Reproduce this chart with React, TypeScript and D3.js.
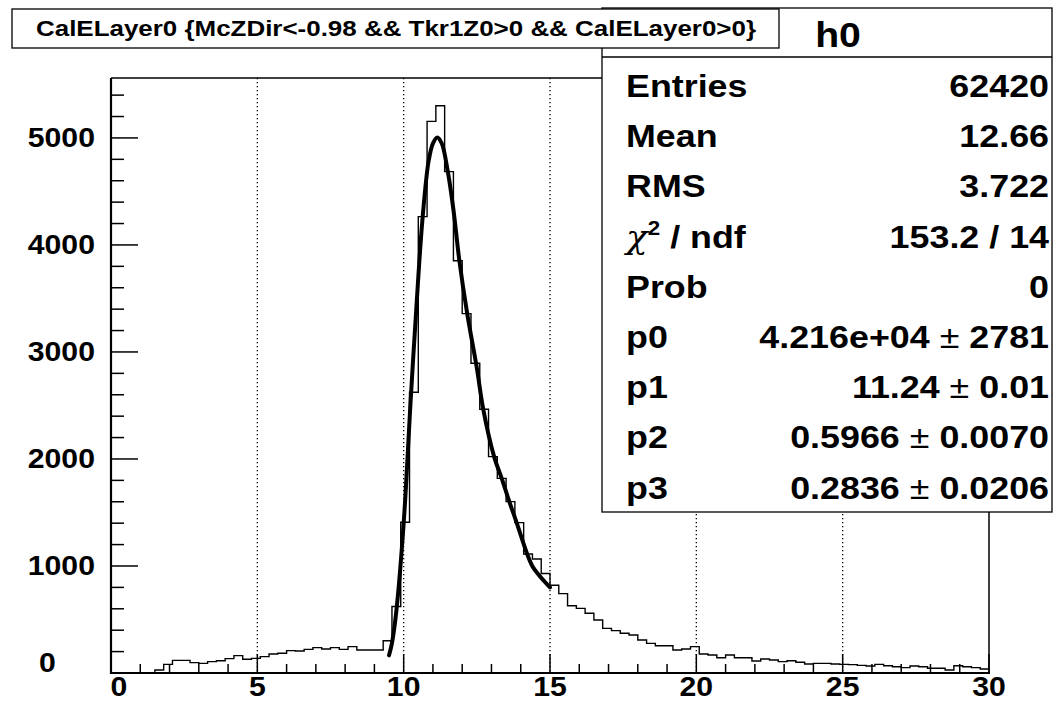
import React from "react";
import * as d3 from "d3";

// ---------------- data ----------------
const X_MIN = 0;
const X_MAX = 30;
const BIN_COUNTS: number[] = [
  0, 0, 0, 0, 3, 28, 81, 118, 118, 97,
  90, 106, 115, 134, 162, 128, 137, 153, 178, 184,
  209, 205, 221, 237, 224, 237, 221, 246, 215, 215,
  215, 302, 622, 1408, 2623, 4265, 5155, 5300, 4685, 3852,
  3358, 2894, 2464, 2022, 1819, 1601, 1405, 1112, 1065, 930,
  820, 742, 628, 604, 558, 495, 417, 396, 371, 355,
  308, 277, 255, 255, 215, 224, 246, 178, 168, 143,
  168, 143, 143, 112, 131, 121, 106, 115, 100, 84,
  90, 90, 84, 81, 78, 71, 65, 81, 68, 59,
  50, 65, 59, 44, 44, 28, 68, 59, 50, 37,
];
const FIT_X: number[] = [9.5, 9.6, 9.75, 10.0, 10.25, 10.5, 10.65, 10.85, 11.0, 11.15, 11.3, 11.5, 11.7, 11.9, 12.17, 12.5, 12.72, 13.09, 13.35, 13.61, 13.86, 14.22, 14.41, 14.7, 15.0];
const FIT_Y: number[] = [165, 280, 580, 1400, 2600, 3700, 4265, 4780, 4950, 5005, 4950, 4700, 4330, 3860, 3360, 2850, 2464, 2022, 1819, 1601, 1405, 1112, 993, 890, 800];

const X_TICKS = [0, 5, 10, 15, 20, 25, 30];
const X_GRID = [5, 10, 15, 20, 25];
const Y_TICKS = [0, 1000, 2000, 3000, 4000, 5000];
const Y_MAX = 5560;

const TITLE = "CalELayer0 {McZDir<-0.98 && Tkr1Z0>0 && CalELayer0>0}";
const HIST_NAME = "h0";
const STAT_LABELS = ["Entries", "Mean", "RMS", "CHI", "Prob", "p0", "p1", "p2", "p3"];
const STAT_VALUES = ["62420", "12.66", "3.722", "153.2 / 14", "0", "4.216e+04", "11.24", "0.5966", "0.2836"];
const STAT_ERRORS = ["", "", "", "", "", "2781", "0.01", "0.0070", "0.0206"];

// ---------------- layout ----------------
const W = 1063;
const H = 702;
const SX = 1.12;
const FONT = "'Liberation Sans', Arial, Helvetica, sans-serif";

const x = d3.scaleLinear().domain([X_MIN, X_MAX]).range([111, 989]);
const y = d3.scaleLinear().domain([0, Y_MAX]).range([673, 78]);

function T(props: {
  x: number;
  y: number;
  anchor?: "start" | "middle" | "end";
  size: number;
  weight?: string;
  children: React.ReactNode;
}) {
  const { anchor = "start", weight = "bold" } = props;
  return (
    <text
      transform={`translate(${props.x},${props.y}) scale(${SX},1)`}
      textAnchor={anchor}
      fontSize={props.size}
      fontWeight={weight}
      fontFamily={FONT}
      fill="#000"
    >
      {props.children}
    </text>
  );
}

export default function App() {
  const binW = (X_MAX - X_MIN) / BIN_COUNTS.length;
  const stepPts: [number, number][] = BIN_COUNTS.map((c, i) => [X_MIN + i * binW, c]);
  stepPts.push([X_MAX, BIN_COUNTS[BIN_COUNTS.length - 1]]);
  const histPath = d3
    .line<[number, number]>()
    .x((d) => x(d[0]))
    .y((d) => y(d[1]))
    .curve(d3.curveStepAfter)(stepPts) as string;

  const fitPts: [number, number][] = FIT_X.map((v, i) => [v, FIT_Y[i]]);
  const fitPath = d3
    .line<[number, number]>()
    .x((d) => x(d[0]))
    .y((d) => y(d[1]))
    .curve(d3.curveCatmullRom.alpha(0.5))(fitPts) as string;

  const xMinor = d3.range(X_MIN, X_MAX + 0.001, 1).filter((v) => v % 5 !== 0);
  const yMinor = d3.range(0, Y_MAX, 200).filter((v) => v % 1000 !== 0);

  const [fx0, fx1] = x.range();
  const [fy0, fy1] = y.range();

  const statX0 = 602, statX1 = 1052, statY0 = 8, statY1 = 512, statHead = 57;
  const rowY = (i: number) => 97 + i * 50.2;

  return (
    <svg width={W} height={H} style={{ display: "block", position: "absolute", left: 0, top: 0 }}>
      <rect x={0} y={0} width={W} height={H} fill="#fff" />
      {/* grid */}
      {X_GRID.map((g) => (
        <line key={"g" + g} x1={x(g)} x2={x(g)} y1={fy1} y2={fy0} stroke="#000" strokeWidth={1.3} strokeDasharray="1.3 2.7" />
      ))}
      {/* histogram */}
      <path d={histPath} fill="none" stroke="#000" strokeWidth={1.4} />
      {/* fit */}
      <path d={fitPath} fill="none" stroke="#000" strokeWidth={4} strokeLinecap="round" />
      {/* frame */}
      <line x1={fx0} x2={fx1} y1={fy1} y2={fy1} stroke="#000" strokeWidth={1.3} />
      <line x1={fx1} x2={fx1} y1={fy1} y2={fy0} stroke="#000" strokeWidth={1.5} />
      <line x1={fx0} x2={fx0} y1={fy1} y2={fy0 + 1} stroke="#000" strokeWidth={2.2} />
      <line x1={fx0 - 1} x2={fx1 + 1} y1={fy0} y2={fy0} stroke="#000" strokeWidth={2.2} />
      {/* x ticks */}
      {X_TICKS.map((t) => (
        <line key={"xt" + t} x1={x(t)} x2={x(t)} y1={fy0} y2={fy0 - 19} stroke="#000" strokeWidth={1.5} />
      ))}
      {xMinor.map((t) => (
        <line key={"xm" + t} x1={x(t)} x2={x(t)} y1={fy0} y2={fy0 - 9} stroke="#000" strokeWidth={1.5} />
      ))}
      {/* y ticks */}
      {Y_TICKS.map((t) => (
        <line key={"yt" + t} x1={fx0} x2={fx0 + 27} y1={y(t)} y2={y(t)} stroke="#000" strokeWidth={1.5} />
      ))}
      {yMinor.map((t) => (
        <line key={"ym" + t} x1={fx0} x2={fx0 + 13} y1={y(t)} y2={y(t)} stroke="#000" strokeWidth={1.5} />
      ))}
      {/* labels */}
      {X_TICKS.map((t) => (
        <T key={"xl" + t} x={x(t) + (t === 0 ? 8 : 0)} y={696} anchor="middle" size={27}>
          {String(t)}
        </T>
      ))}
      {Y_TICKS.map((t) =>
        t === 0 ? (
          <T key={"yl" + t} x={39} y={672} anchor="start" size={27}>
            {String(t)}
          </T>
        ) : (
          <T key={"yl" + t} x={95} y={y(t) + 9} anchor="end" size={27}>
            {String(t)}
          </T>
        )
      )}
      {/* stats box */}
      <rect x={statX0} y={statY0} width={statX1 - statX0} height={statY1 - statY0} fill="#fff" stroke="#000" strokeWidth={1.3} />
      <line x1={statX0} x2={statX1} y1={statHead} y2={statHead} stroke="#000" strokeWidth={1.3} />
      <T x={838} y={47} anchor="middle" size={35}>{HIST_NAME}</T>
      {STAT_LABELS.map((lab, i) => (
        <g key={"s" + i}>
          {lab === "CHI" ? (
            <T x={626} y={rowY(i)} size={32}>
              <tspan fontWeight="normal" fontFamily="'DejaVu Serif', serif" fontStyle="italic">χ</tspan>
              <tspan fontSize={20} dy={-13}>2</tspan>
              <tspan dy={13}> / ndf</tspan>
            </T>
          ) : (
            <T x={626} y={rowY(i)} size={32}>{lab}</T>
          )}
          <T x={1049} y={rowY(i)} anchor="end" size={32}>
            {STAT_VALUES[i]}
            {STAT_ERRORS[i] ? (
              <>
                <tspan fontWeight="normal"> ± </tspan>
                <tspan>{STAT_ERRORS[i]}</tspan>
              </>
            ) : null}
          </T>
        </g>
      ))}
      {/* title box */}
      <rect x={12} y={9} width={767} height={39} fill="#fff" stroke="#000" strokeWidth={1.3} />
      <text x={396} y={36} textAnchor="middle" fontSize={22} fontWeight="bold" fontFamily={FONT} textLength={720} lengthAdjust="spacingAndGlyphs">
        {TITLE}
      </text>
    </svg>
  );
}
